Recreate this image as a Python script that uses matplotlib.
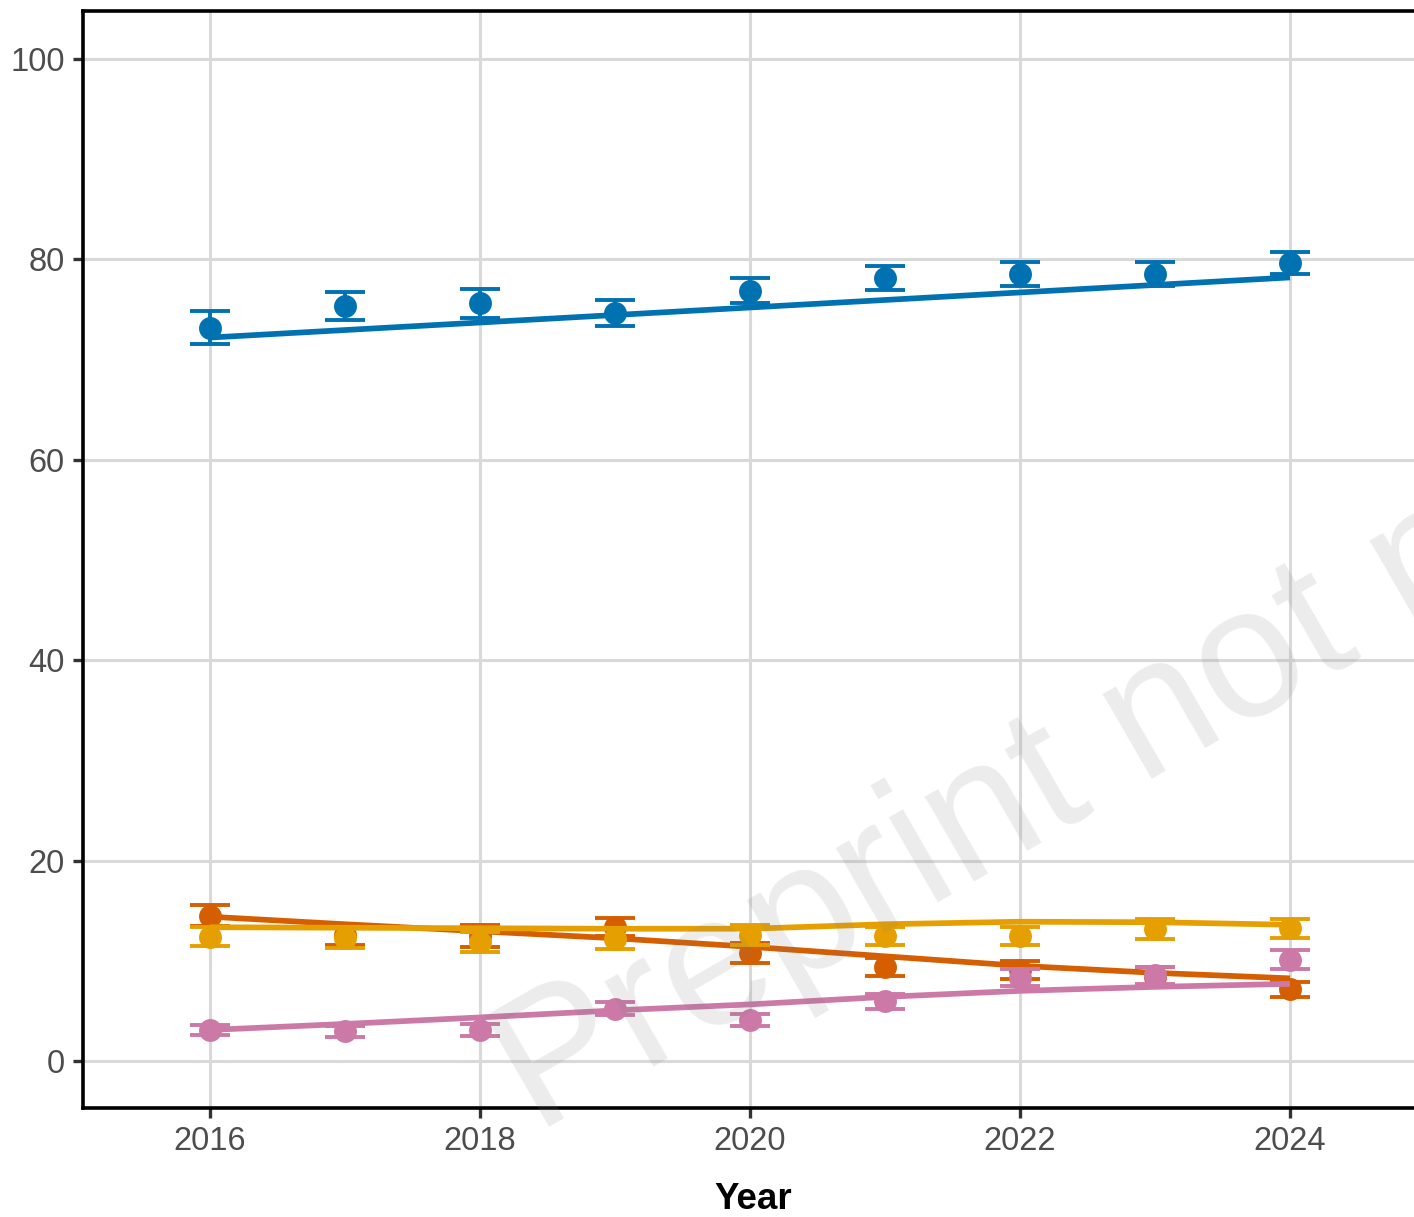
import matplotlib
matplotlib.use("Agg")
import matplotlib.pyplot as plt

plt.rcParams['font.family'] = ['Liberation Sans', 'DejaVu Sans']

years = [2016, 2017, 2018, 2019, 2020, 2021, 2022, 2023, 2024]

# observed yearly estimates with half-width of the interval, plus fitted trend
blue_mean = [73.2, 75.35, 75.6, 74.65, 76.85, 78.1, 78.5, 78.5, 79.6]
blue_err = [1.65, 1.35, 1.4, 1.25, 1.25, 1.2, 1.2, 1.2, 1.1]
blue_fit = [72.2, 72.95, 73.7, 74.45, 75.2, 75.95, 76.7, 77.45, 78.2]

orange_mean = [14.5, 12.6, 12.5, 13.4, 10.75, 9.4, 9.1, 8.4, 7.15]
orange_err = [1.05, 1.0, 1.1, 0.9, 1.0, 0.9, 0.9, 1.0, 0.75]
orange_fit = [14.4, 13.65, 12.95, 12.25, 11.4, 10.45, 9.5, 8.8, 8.25]

yellow_mean = [12.4, 12.25, 11.9, 12.2, 12.6, 12.5, 12.5, 13.2, 13.25]
yellow_err = [0.95, 1.0, 1.0, 1.0, 1.0, 0.9, 0.9, 1.0, 0.95]
yellow_fit = [13.35, 13.3, 13.25, 13.2, 13.2, 13.65, 13.9, 13.85, 13.6]

pink_mean = [3.1, 2.95, 3.1, 5.2, 4.1, 5.95, 8.3, 8.55, 10.1]
pink_err = [0.5, 0.55, 0.6, 0.65, 0.6, 0.75, 0.85, 0.85, 0.95]
pink_fit = [3.1, 3.7, 4.35, 5.05, 5.65, 6.4, 7.0, 7.4, 7.7]

y_ticks = [0, 20, 40, 60, 80, 100]
x_ticks = [2016, 2018, 2020, 2022, 2024]

series = [
    (blue_mean, blue_err, blue_fit, "#0072B2"),
    (orange_mean, orange_err, orange_fit, "#D55E00"),
    (yellow_mean, yellow_err, yellow_fit, "#E69F00"),
    (pink_mean, pink_err, pink_fit, "#CC79A7"),
]

fig = plt.figure(figsize=(14.14, 12.17), dpi=100)
ax = fig.add_axes([83 / 1414, 109 / 1217, 1340 / 1414, 1097 / 1217])

for i, (mean, err, fit, col) in enumerate(series):
    base = 3 + i * 3
    ax.errorbar(years, mean, yerr=err, fmt='none', ecolor=col,
                elinewidth=2.8, capsize=14.6, capthick=2.8, zorder=base)
    ax.plot(years, mean, 'o', color=col, ms=16.5, mew=0, zorder=base + 1)
    ax.plot(years, fit, '-', color=col, lw=4.1, zorder=base + 2,
            solid_capstyle='butt')

ax.set_xlim(2015.06, 2024.985)
ax.set_ylim(-4.69, 104.79)
ax.set_xticks(x_ticks)
ax.set_yticks(y_ticks)
ax.set_xticklabels([str(t) for t in x_ticks])
ax.set_yticklabels([str(t) for t in y_ticks])

ax.grid(True, color="#D9D9D9", lw=2.2, zorder=0)
ax.set_axisbelow(True)
for s in ax.spines.values():
    s.set_linewidth(2.6)
    s.set_color("black")

ax.tick_params(axis='both', length=7.2, width=2.4, color="#333333",
               labelsize=23.5, labelcolor="#4D4D4D", pad=6)

ax.set_xlabel("Year", fontsize=26.5, fontweight='bold', labelpad=18)

fig.text(536 / 1414, (1217 - 1134) / 1217, "Preprint not peer reviewed",
         fontsize=133, color="#808080", alpha=0.15, rotation=30,
         rotation_mode='anchor', ha='left', va='baseline', zorder=50)

fig.savefig("out.png", dpi=100)
